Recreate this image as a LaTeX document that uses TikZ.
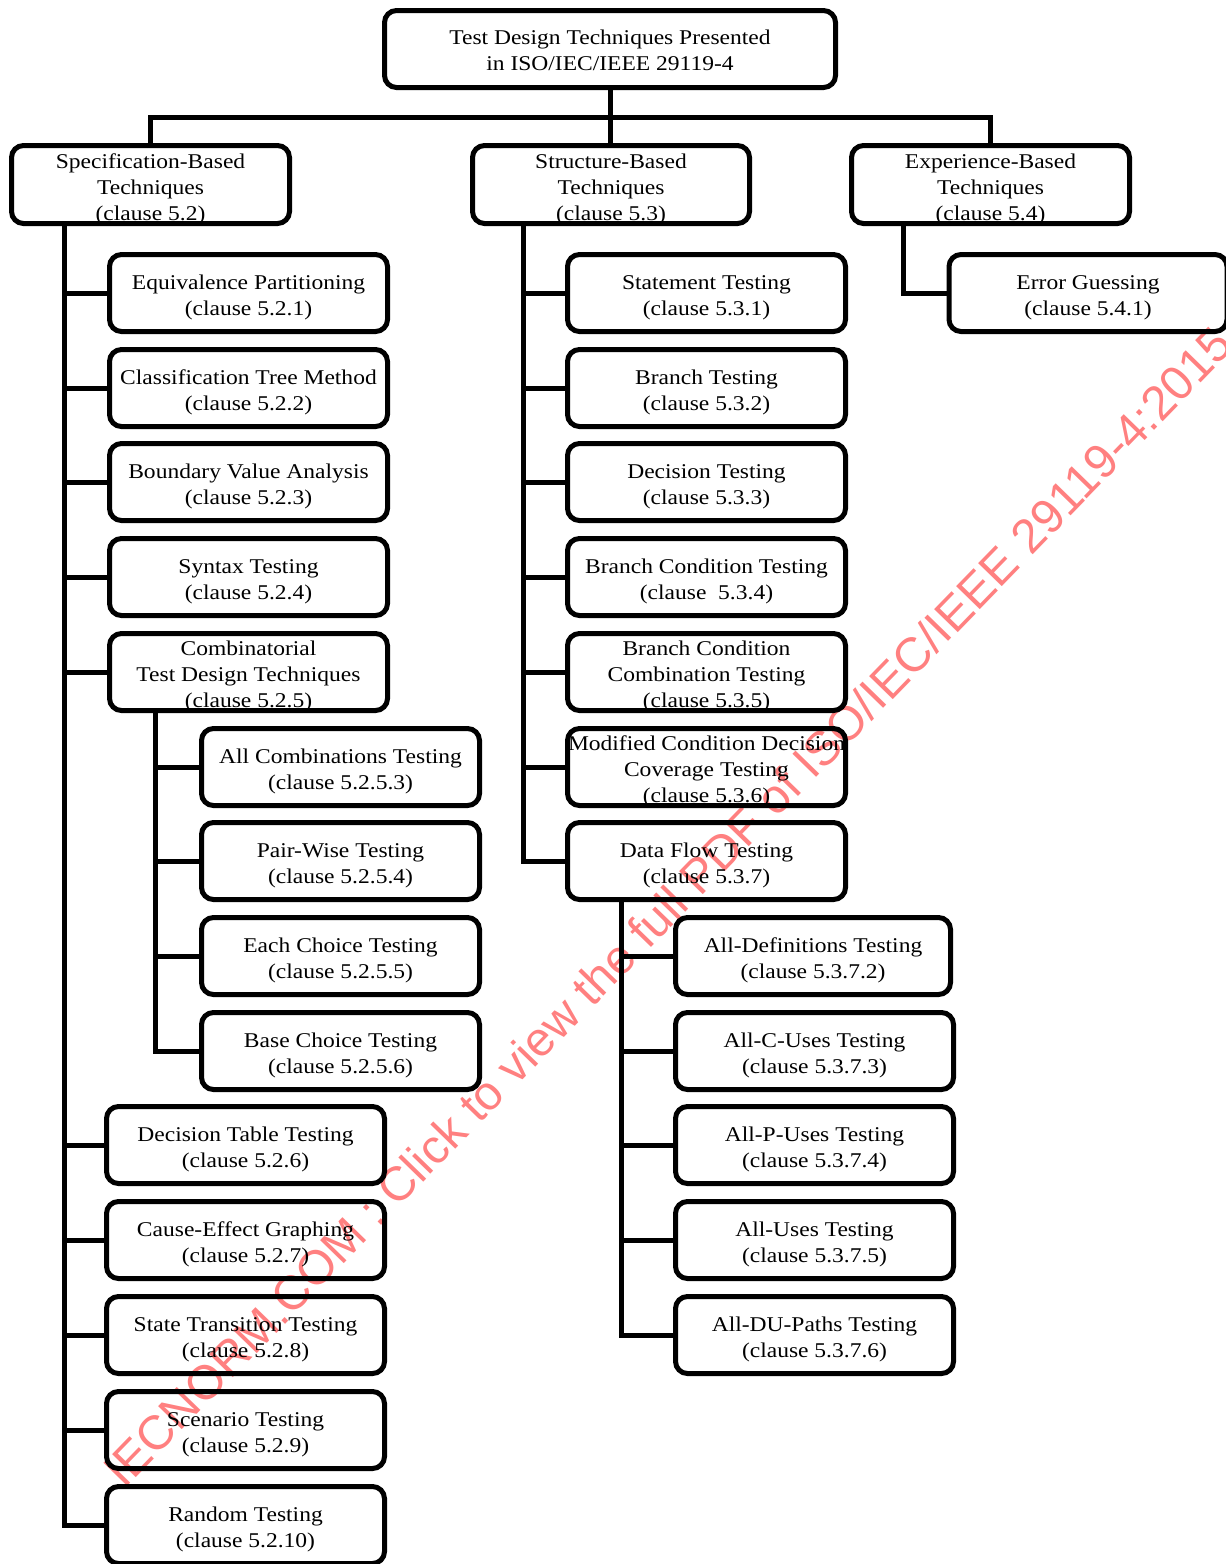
\documentclass[tikz,border=0pt]{standalone}
\usepackage{fontspec}
\setmainfont{Liberation Serif}[FakeStretch=1.12]
\newfontfamily\wmfont{Liberation Sans}
\tikzset{
  box/.style={draw, line width=5pt, rounded corners=12pt, inner sep=0pt, minimum width=278pt, minimum height=77pt},
  btext/.style={inner sep=0pt, align=center, font=\fontsize{21}{26}\selectfont},
  wire/.style={line width=5pt, line join=miter},
  wmark/.style={text=red!50, font=\wmfont\fontsize{48}{48}\selectfont, rotate=45.8, anchor=base west, inner sep=0pt}
}
% name, x, y, width, height, text
\newcommand\bx[6]{%
  \node[box, minimum width=#4pt, minimum height=#5pt] (#1) at (#2,#3) {};
  \node[btext] (#1-t) at ([yshift=-4.5pt]#1.center) {#6};}
\begin{document}
\begin{tikzpicture}[x=1pt, y=-1pt]
\useasboundingbox (0,0) rectangle (1226,1564);
\clip (0,0) rectangle (1226,1564);
% watermark
\node[wmark] (wm) at (124,1490) {IECNORM.COM : Click to view the full PDF of ISO/IEC/IEEE 29119-4:2015};
% root and level 1
\node[box, minimum width=451pt] (root) at (610,49) {};
\node[btext] (root-t) at ([yshift=-1.5pt]root.center) {Test Design Techniques Presented\\in ISO/IEC/IEEE 29119-4};
\bx{spec}{150.5}{184.5}{278}{78}{Specification-Based\\Techniques\\(clause 5.2)}
\bx{struct}{611}{184.5}{277}{78}{Structure-Based\\Techniques\\(clause 5.3)}
\bx{exp}{990.5}{184.5}{278}{78}{Experience-Based\\Techniques\\(clause 5.4)}
% specification-based children
\bx{ep}{248.5}{293}{278}{77}{Equivalence Partitioning\\(clause 5.2.1)}
\bx{ctm}{248.5}{388}{278}{77}{Classification Tree Method\\(clause 5.2.2)}
\bx{bva}{248.5}{482}{278}{77}{Boundary Value Analysis\\(clause 5.2.3)}
\bx{syn}{248.5}{577}{278}{77}{Syntax Testing\\(clause 5.2.4)}
\bx{comb}{248.5}{672}{278}{77}{Combinatorial\\Test Design Techniques\\(clause 5.2.5)}
\bx{allc}{340.5}{767}{278}{77}{All Combinations Testing\\(clause 5.2.5.3)}
\bx{pair}{340.5}{861}{278}{77}{Pair-Wise Testing\\(clause 5.2.5.4)}
\bx{each}{340.5}{956}{278}{77}{Each Choice Testing\\(clause 5.2.5.5)}
\bx{base}{340.5}{1051}{278}{77}{Base Choice Testing\\(clause 5.2.5.6)}
\bx{dtt}{245.5}{1145}{278}{77}{Decision Table Testing\\(clause 5.2.6)}
\bx{ceg}{245.5}{1240}{278}{77}{Cause-Effect Graphing\\(clause 5.2.7)}
\bx{stt}{245.5}{1335}{278}{77}{State Transition Testing\\(clause 5.2.8)}
\bx{scn}{245.5}{1430}{278}{77}{Scenario Testing\\(clause 5.2.9)}
\bx{rnd}{245.5}{1525}{278}{77}{Random Testing\\(clause 5.2.10)}
% structure-based children
\bx{stm}{706.5}{293}{278}{77}{Statement Testing\\(clause 5.3.1)}
\bx{brt}{706.5}{388}{278}{77}{Branch Testing\\(clause 5.3.2)}
\bx{dct}{706.5}{482}{278}{77}{Decision Testing\\(clause 5.3.3)}
\bx{bct}{706.5}{577}{278}{77}{Branch Condition Testing\\(clause\ \ 5.3.4)}
\bx{bcc}{706.5}{672}{278}{77}{Branch Condition\\Combination Testing\\(clause 5.3.5)}
\bx{mcd}{706.5}{767}{278}{77}{Modified Condition Decision\\Coverage Testing\\(clause 5.3.6)}
\bx{dft}{706.5}{861}{278}{77}{Data Flow Testing\\(clause 5.3.7)}
\bx{adef}{813}{956}{275}{77}{All-Definitions Testing\\(clause 5.3.7.2)}
\bx{acu}{814.5}{1051}{278}{77}{All-C-Uses Testing\\(clause 5.3.7.3)}
\bx{apu}{814.5}{1145}{278}{77}{All-P-Uses Testing\\(clause 5.3.7.4)}
\bx{au}{814.5}{1240}{278}{77}{All-Uses Testing\\(clause 5.3.7.5)}
\bx{adu}{814.5}{1335}{278}{77}{All-DU-Paths Testing\\(clause 5.3.7.6)}
% experience-based child
\bx{eg}{1088}{293}{278}{77}{Error Guessing\\(clause 5.4.1)}
% trunk coordinates
\coordinate (bar) at (610,117);
\coordinate (sT) at (64,0);
\coordinate (cT) at (155,0);
\coordinate (tT) at (523,0);
\coordinate (dT) at (621,0);
\coordinate (eT) at (903,0);
% connectors from root
\draw[wire] (root.south) -- (root.south |- struct.north);
\draw[wire] (spec.north) -- (spec.north |- bar) -- (exp.north |- bar) -- (exp.north);
% specification trunk
\draw[wire] (sT |- spec.south) -- (sT |- rnd.west) -- (rnd.west);
\foreach \n in {ep,ctm,bva,syn,comb,dtt,ceg,stt,scn}
  \draw[wire] (sT |- \n.west) -- (\n.west);
\draw[wire] (cT |- comb.south) -- (cT |- base.west) -- (base.west);
\foreach \n in {allc,pair,each}
  \draw[wire] (cT |- \n.west) -- (\n.west);
% structure trunk
\draw[wire] (tT |- struct.south) -- (tT |- dft.west) -- (dft.west);
\foreach \n in {stm,brt,dct,bct,bcc,mcd}
  \draw[wire] (tT |- \n.west) -- (\n.west);
\draw[wire] (dT |- dft.south) -- (dT |- adu.west) -- (adu.west);
\foreach \n in {adef,acu,apu,au}
  \draw[wire] (dT |- \n.west) -- (\n.west);
% experience trunk
\draw[wire] (eT |- exp.south) -- (eT |- eg.west) -- (eg.west);
\end{tikzpicture}
\end{document}
